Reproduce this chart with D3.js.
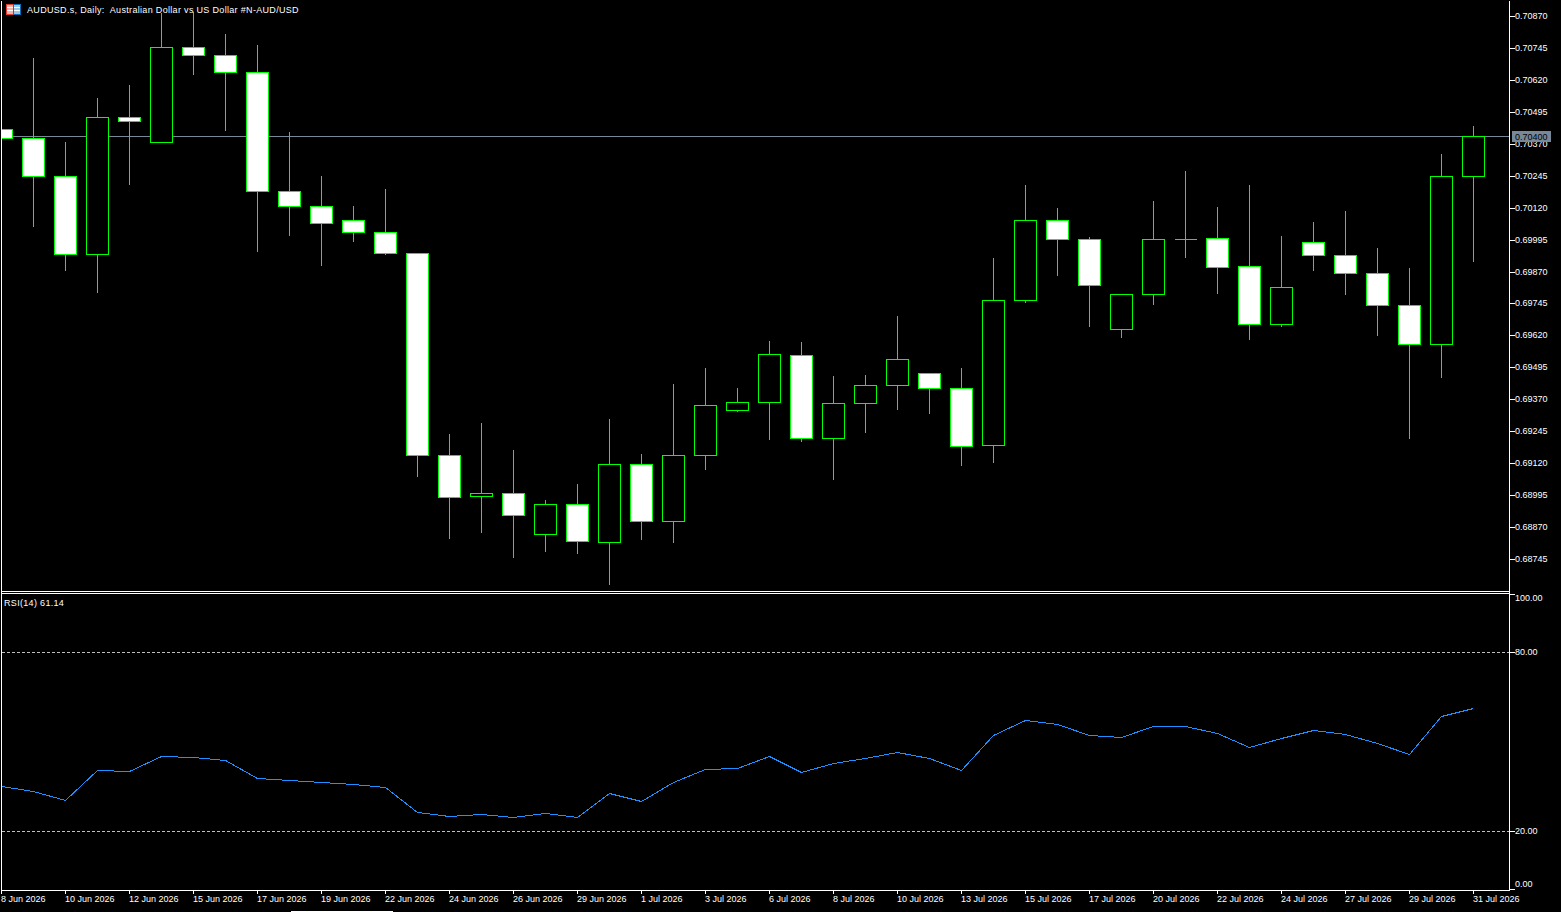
<!DOCTYPE html>
<html>
<head>
<meta charset="utf-8">
<title>AUDUSD.s Daily</title>
<script src="https://cdn.jsdelivr.net/npm/d3@7"></script>
<style>
  html, body { margin: 0; padding: 0; background: #000; overflow: hidden; }
  svg { display: block; }
  text { font-family: "Liberation Sans", Arial, sans-serif; font-size: 9px; fill: #fff; white-space: pre; }
  .title { letter-spacing: 0.32px; }
</style>
</head>
<body>
<div id="container"></div>
<script>
// Daily candles
const opens = [0.70428,0.70393,0.70244,0.69939,0.70475,0.70377,0.70749,0.70717,0.70651,0.70185,0.70126,0.70072,0.70025,0.69942,0.69152,0.68991,0.69003,0.68843,0.68960,0.68811,0.69117,0.68893,0.69152,0.69328,0.69359,0.69543,0.69218,0.69355,0.69426,0.69473,0.69414,0.69191,0.69758,0.70072,0.69997,0.69645,0.69782,0.69997,0.70001,0.69892,0.69665,0.69985,0.69935,0.69864,0.69739,0.69586,0.70244];
const highs = [0.70428,0.70706,0.70377,0.70549,0.70600,0.70882,0.70886,0.70800,0.70757,0.70416,0.70244,0.70126,0.70193,0.69942,0.69234,0.69277,0.69171,0.68976,0.69038,0.69293,0.69156,0.69430,0.69492,0.69414,0.69598,0.69594,0.69461,0.69465,0.69696,0.69473,0.69492,0.69923,0.70209,0.70119,0.70005,0.69782,0.70146,0.70263,0.70122,0.70209,0.70009,0.70064,0.70107,0.69962,0.69884,0.70330,0.70440];
const lows = [0.70393,0.70048,0.69876,0.69790,0.70212,0.70377,0.70643,0.70424,0.69950,0.70013,0.69895,0.69989,0.69939,0.69070,0.68827,0.68850,0.68753,0.68776,0.68768,0.68647,0.68823,0.68811,0.69097,0.69324,0.69214,0.69207,0.69058,0.69242,0.69332,0.69316,0.69113,0.69124,0.69751,0.69856,0.69657,0.69614,0.69743,0.69927,0.69786,0.69606,0.69657,0.69876,0.69782,0.69621,0.69218,0.69457,0.69911];
const closes = [0.70393,0.70244,0.69939,0.70475,0.70459,0.70749,0.70717,0.70651,0.70185,0.70126,0.70060,0.70025,0.69942,0.69152,0.68987,0.69003,0.68917,0.68960,0.68815,0.69117,0.68893,0.69152,0.69348,0.69359,0.69547,0.69218,0.69355,0.69426,0.69528,0.69414,0.69187,0.69758,0.70072,0.69997,0.69817,0.69782,0.69997,0.69997,0.69888,0.69665,0.69809,0.69935,0.69864,0.69739,0.69586,0.70244,0.70400];

const rsiValues = [35.09,33.41,30.39,40.45,40.11,45.14,44.81,43.80,37.77,37.10,36.43,35.76,34.75,26.37,25.03,25.70,24.69,26.03,24.69,32.74,30.06,36.43,40.78,41.12,45.14,39.78,42.79,44.47,46.48,44.47,40.45,52.18,57.21,55.87,52.18,51.51,55.20,55.20,52.85,48.16,51.17,53.86,52.52,49.50,45.81,58.55,61.14];

const dateLabels = ["8 Jun 2026","10 Jun 2026","12 Jun 2026","15 Jun 2026","17 Jun 2026","19 Jun 2026","22 Jun 2026","24 Jun 2026","26 Jun 2026","29 Jun 2026","1 Jul 2026","3 Jul 2026","6 Jul 2026","8 Jul 2026","10 Jul 2026","13 Jul 2026","15 Jul 2026","17 Jul 2026","20 Jul 2026","22 Jul 2026","24 Jul 2026","27 Jul 2026","29 Jul 2026","31 Jul 2026"];
const priceTicks = [0.70870,0.70745,0.70620,0.70495,0.70370,0.70245,0.70120,0.69995,0.69870,0.69745,0.69620,0.69495,0.69370,0.69245,0.69120,0.68995,0.68870,0.68745];
const rsiTicks = [100,80,20,0];
const rsiLevels = [80,20];
const currentPrice = 0.70400;

const width = 1561, height = 912;
const chartLeft = 1, axisX = 1509, priceBottom = 591, rsiTop = 593, rsiBottom = 890;

const svg = d3.select("#container").append("svg")
  .attr("width", width)
  .attr("height", height)
  .attr("shape-rendering", "crispEdges");

svg.append("rect").attr("width", width).attr("height", height).attr("fill", "#000");

const xScale = d3.scaleLinear().domain([0, opens.length - 1]).rangeRound([1, 1473]);
const yScale = d3.scaleLinear().domain([0.70870, 0.68745]).rangeRound([16, 559]);
const rsiScale = d3.scaleLinear().domain([0, 100]).rangeRound([890.67, 592.34]);

const clip = svg.append("clipPath").attr("id", "plot")
  .append("rect").attr("x", chartLeft + 1).attr("y", 0)
  .attr("width", axisX - chartLeft - 1).attr("height", priceBottom);

const candles = svg.append("g").attr("clip-path", "url(#plot)");

// current price line sits under the candles
candles.append("line")
  .attr("x1", chartLeft).attr("x2", axisX)
  .attr("y1", yScale(currentPrice) + 0.5).attr("y2", yScale(currentPrice) + 0.5)
  .attr("stroke", "#778899");

const bars = d3.range(opens.length);

// wicks run over the whole first and last pixel row
candles.selectAll(".wick").data(bars).enter().append("line")
  .attr("class", "wick")
  .attr("x1", i => xScale(i) + 0.5).attr("x2", i => xScale(i) + 0.5)
  .attr("y1", i => yScale(highs[i])).attr("y2", i => yScale(lows[i]) + 1)
  .attr("stroke", "#00ff00");

// a path and not a rect, the doji has no height and still has to show
candles.selectAll(".body").data(bars).enter().append("path")
  .attr("class", "body")
  .attr("d", i => {
    const x = xScale(i) + 0.5 - 11;
    const top = yScale(Math.max(opens[i], closes[i])) + 0.5;
    const bottom = yScale(Math.min(opens[i], closes[i])) + 0.5;
    return `M${x},${top}h22V${bottom}h-22Z`;
  })
  .attr("fill", i => closes[i] < opens[i] ? "#fff" : "#000")
  .attr("stroke", "#00ff00");

// RSI panel
const rsiPlot = svg.append("g");

rsiPlot.selectAll(".level").data(rsiLevels).enter().append("line")
  .attr("class", "level")
  .attr("x1", chartLeft + 1).attr("x2", axisX)
  .attr("y1", d => rsiScale(d) + 0.5).attr("y2", d => rsiScale(d) + 0.5)
  .attr("stroke", "#c0c0c0")
  .attr("stroke-dasharray", "3,2");

const rsiLine = d3.line()
  .x((d, i) => xScale(i) + 0.5)
  .y(d => rsiScale(d) + 0.5);

rsiPlot.append("path")
  .datum(rsiValues)
  .attr("fill", "none")
  .attr("stroke", "#1e90ff")
  .attr("d", rsiLine);

// frame
const frame = [
  [chartLeft, 0, chartLeft, rsiBottom],
  [axisX, 0, axisX, rsiBottom],
  [chartLeft, priceBottom, axisX, priceBottom],
  [chartLeft, rsiTop, axisX, rsiTop],
  [chartLeft, rsiBottom, axisX, rsiBottom]
];
svg.selectAll(".frame").data(frame).enter().append("line")
  .attr("class", "frame")
  .attr("x1", d => d[0] + 0.5).attr("y1", d => d[1] + 0.5)
  .attr("x2", d => d[2] + 0.5).attr("y2", d => d[3] + 0.5)
  .attr("stroke", "#fff");

// price axis
svg.append("g")
  .attr("transform", `translate(${axisX + 1},0)`)
  .call(d3.axisRight(yScale).tickValues(priceTicks).tickFormat(d3.format(".5f")).tickSize(5).tickPadding(0))
  .call(g => g.select(".domain").remove())
  .call(g => g.selectAll(".tick line").attr("stroke", "#fff"))
  .call(g => g.selectAll(".tick text").attr("fill", "#fff").attr("font-size", null).attr("font-family", null));

// rsi axis, the 0 and 100 labels are pulled inside the panel
svg.append("g")
  .attr("transform", `translate(${axisX + 1},0)`)
  .call(d3.axisRight(rsiScale).tickValues(rsiTicks).tickFormat(d3.format(".2f")).tickSize(5).tickPadding(0))
  .call(g => g.select(".domain").remove())
  .call(g => g.selectAll(".tick line").attr("stroke", "#fff"))
  .call(g => g.selectAll(".tick text").attr("font-size", null).attr("font-family", null))
  .call(g => g.selectAll(".tick").filter(d => d === 0).attr("transform", "translate(0,889.5)").select("text").attr("y", -5))
  .call(g => g.selectAll(".tick").filter(d => d === 100).attr("transform", "translate(0,594.5)").select("text").attr("y", 4));

// time axis, one label every second bar
svg.append("g")
  .attr("transform", `translate(0,${rsiBottom})`)
  .call(d3.axisBottom(xScale)
    .tickValues(dateLabels.map((d, i) => i * 2))
    .tickFormat(i => dateLabels[i / 2])
    .tickSize(4).tickPadding(0))
  .call(g => g.select(".domain").remove())
  .call(g => g.selectAll(".tick line").attr("stroke", "#fff"))
  .call(g => g.selectAll(".tick text")
    .attr("font-size", null).attr("font-family", null)
    .attr("text-anchor", "start").attr("x", -0.5).attr("y", 6));

// current price tag
svg.append("rect")
  .attr("x", 1512).attr("y", yScale(currentPrice) - 5)
  .attr("width", 39).attr("height", 11)
  .attr("fill", "#778899");
svg.append("text")
  .attr("x", 1515).attr("y", yScale(currentPrice) + 4)
  .style("fill", "#000")
  .text(d3.format(".5f")(currentPrice));

// titles
svg.append("text").attr("class", "title").attr("x", 27).attr("y", 13)
  .text("AUDUSD.s, Daily:  Australian Dollar vs US Dollar #N-AUD/USD");
svg.append("text").attr("class", "title").attr("x", 4).attr("y", 606)
  .text("RSI(14) " + rsiValues[rsiValues.length - 1].toFixed(2));

// small chart-type icon next to the title
const icon = svg.append("g").attr("transform", "translate(6,4)");
icon.append("rect").attr("x", 0.5).attr("y", 0.5).attr("width", 7).attr("height", 10).attr("fill", "#f4b4ac").attr("stroke", "#e8392c");
icon.append("rect").attr("x", 7.5).attr("y", 0.5).attr("width", 7).attr("height", 10).attr("fill", "#9cc8e8").attr("stroke", "#0b6fb8");
[3, 6].forEach(y => {
  icon.append("rect").attr("x", 1).attr("y", y).attr("width", 6).attr("height", 1).attr("fill", "#fff");
  icon.append("rect").attr("x", 8).attr("y", y).attr("width", 6).attr("height", 1).attr("fill", "#fff");
});

// scrollbar sliver at the very bottom of the window
svg.append("rect").attr("x", 291).attr("y", 911).attr("width", 102).attr("height", 1).attr("fill", "#fff");
</script>
</body>
</html>
